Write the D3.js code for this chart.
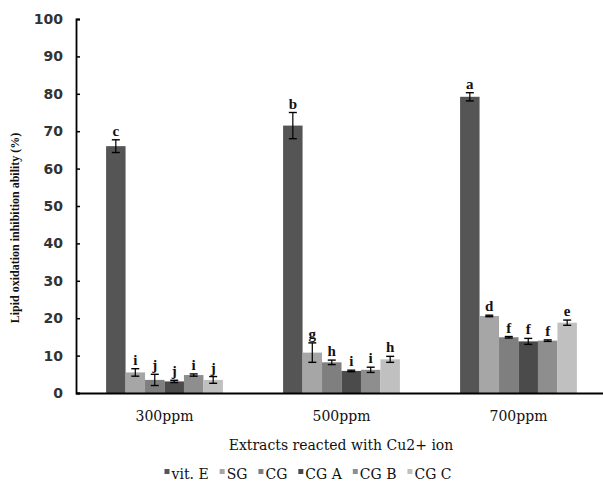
<!DOCTYPE html>
<html><head><meta charset="utf-8">
<script src="https://cdn.jsdelivr.net/npm/d3@7"></script>
<style>body{margin:0;background:#fff}</style>
</head><body><svg id="c" width="603" height="486"></svg>
<script>
const categories = ["300ppm", "500ppm", "700ppm"];
const seriesNames = ["vit. E", "SG", "CG", "CG A", "CG B", "CG C"];
const colors = ["#555555", "#a6a6a6", "#7f7f7f", "#4b4b4b", "#8e8e8e", "#c0c0c0"];
const vitE = [66.0, 71.5, 79.2];
const SG = [5.5, 10.8, 20.6];
const CG = [3.5, 8.2, 14.9];
const CGA = [3.1, 5.9, 13.8];
const CGB = [4.8, 6.2, 14.0];
const CGC = [3.5, 9.0, 18.8];
const errVitE = [1.7, 3.5, 1.1];
const errSG = [1.0, 2.6, 0.2];
const errCG = [1.5, 0.6, 0.2];
const errCGA = [0.3, 0.2, 0.8];
const errCGB = [0.3, 0.7, 0.2];
const errCGC = [0.9, 0.8, 0.7];
const lettersVitE = ["c", "b", "a"];
const lettersSG = ["i", "g", "d"];
const lettersCG = ["j", "h", "f"];
const lettersCGA = ["j", "i", "f"];
const lettersCGB = ["i", "i", "f"];
const lettersCGC = ["j", "h", "e"];
const yTicks = [0, 10, 20, 30, 40, 50, 60, 70, 80, 90, 100];

const values = [vitE, SG, CG, CGA, CGB, CGC];
const errs = [errVitE, errSG, errCG, errCGA, errCGB, errCGC];
const letters = [lettersVitE, lettersSG, lettersCG, lettersCGA, lettersCGB, lettersCGC];

const svg = d3.select("#c");
const x0 = d3.scaleBand().domain(categories).range([76, 607]).paddingInner(0.34).paddingOuter(0.17);
const x1 = d3.scaleBand().domain(seriesNames).range([0, x0.bandwidth()]);
const y = d3.scaleLinear().domain([0, 100]).range([393, 19]);

const serif = "'DejaVu Serif','Liberation Serif',serif";
const serif2 = "'Liberation Serif','DejaVu Serif',serif";
const sans = "'DejaVu Sans',Arial,sans-serif";

// bars
seriesNames.forEach((s, si) => {
  const g = svg.append("g");
  categories.forEach((c, ci) => {
    const v = values[si][ci], e = errs[si][ci];
    const bx = x0(c) + x1(s), bw = x1.bandwidth();
    g.append("rect").attr("x", bx).attr("y", y(v)).attr("width", bw).attr("height", y(0) - y(v))
      .attr("fill", colors[si]);
    const cx = bx + bw / 2;
    g.append("line").attr("x1", cx).attr("x2", cx).attr("y1", y(v + e)).attr("y2", y(v - e)).attr("stroke", "#000").attr("stroke-width", 1.2);
    [v + e, v - e].forEach(t => g.append("line").attr("x1", cx - 4).attr("x2", cx + 4).attr("y1", y(t)).attr("y2", y(t)).attr("stroke", "#000").attr("stroke-width", 1.4));
    g.append("text").attr("x", cx).attr("y", y(v + e) - 4).attr("text-anchor", "middle")
      .attr("font-family", serif2).attr("font-weight", "bold").attr("font-size", 15).attr("fill", "#111")
      .text(letters[si][ci]);
  });
});

// y axis
const ya = svg.append("g").attr("transform", "translate(76,0)")
  .call(d3.axisRight(y).tickValues(yTicks).tickSize(4).tickFormat(d3.format("d")));
ya.select(".domain").attr("stroke", "#000").attr("stroke-width", 1.8);
ya.selectAll(".tick line").attr("stroke", "#000").attr("stroke-width", 1.5);
ya.selectAll(".tick text").attr("x", -13).attr("text-anchor", "end")
  .attr("font-family", sans).attr("font-weight", "bold").attr("font-size", 14).attr("fill", "#333");

// x axis
const xa = svg.append("g").attr("transform", "translate(0,393)")
  .call(d3.axisBottom(x0).tickSize(0).tickSizeOuter(0));
xa.select(".domain").attr("stroke", "#000").attr("stroke-width", 1.8);
xa.selectAll(".tick text").attr("y", 28).attr("dy", null).attr("font-family", serif).attr("font-size", 14).attr("fill", "#111");

// axis titles
svg.append("text").attr("x", 341).attr("y", 450).attr("text-anchor", "middle")
  .attr("font-family", serif).attr("font-size", 14).attr("fill", "#111").text("Extracts reacted with Cu2+ ion");
svg.append("text").attr("transform", "translate(19,228) rotate(-90)").attr("text-anchor", "middle")
  .attr("font-family", serif2).attr("font-weight", "bold").attr("font-size", 12).attr("fill", "#111")
  .text("Lipid oxidation inhibition ability (%)");

// legend (sequential layout, centred)
const leg = svg.append("g");
let cur = 0;
seriesNames.forEach((s, i) => {
  leg.append("rect").attr("x", cur).attr("y", 469).attr("width", 5).attr("height", 5).attr("fill", colors[i]);
  const t = leg.append("text").attr("x", cur + 7).attr("y", 479).attr("font-family", serif).attr("font-size", 14)
    .attr("fill", "#111").text(s);
  cur += 7 + t.node().getComputedTextLength() + 11;
});
const total = cur - 11;
leg.attr("transform", `translate(${308 - total / 2},0)`);
</script></body></html>
